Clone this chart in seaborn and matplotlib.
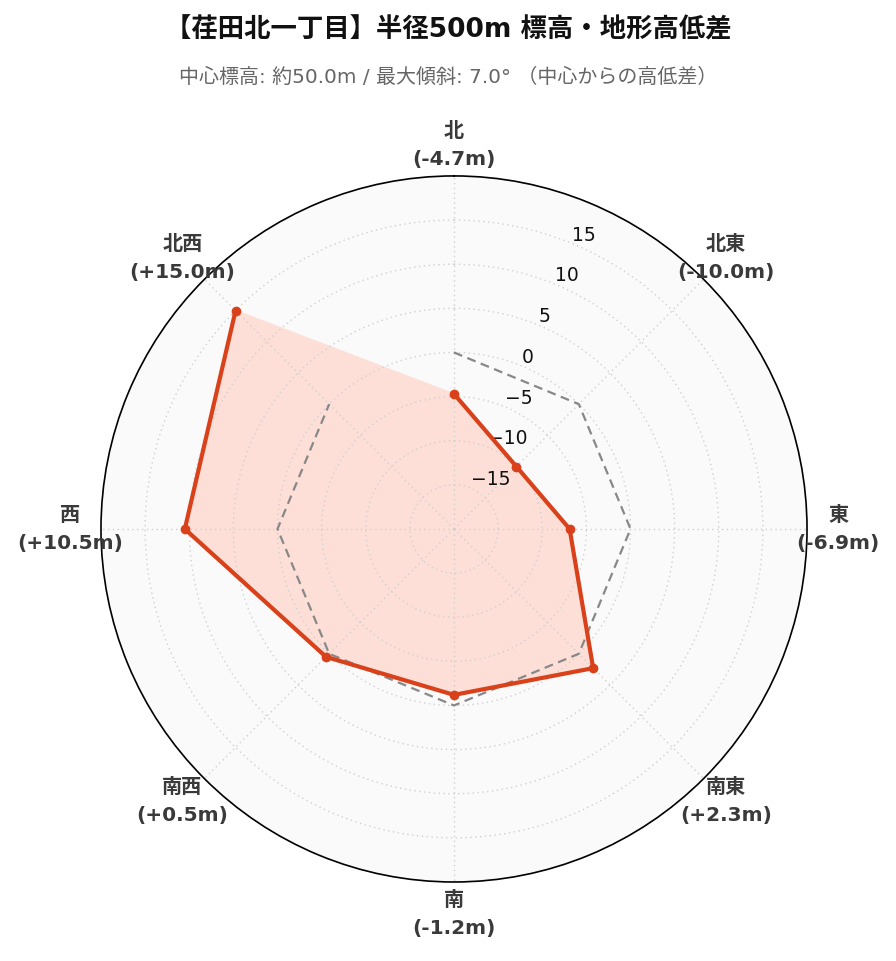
import numpy as np
import pandas as pd
import matplotlib
matplotlib.use("Agg")
import matplotlib.pyplot as plt
import seaborn as sns

# Data
directions = ["北", "北東", "東", "南東", "南", "南西", "西", "北西"]
diffs = [-4.7, -10.0, -6.9, 2.3, -1.2, 0.5, 10.5, 15.0]
r_ticks = [-15, -10, -5, 0, 5, 10, 15]
title = "【荏田北一丁目】半径500m 標高・地形高低差"
subtitle = "中心標高: 約50.0m / 最大傾斜: 7.0° （中心からの高低差）"

sns.set_style("white")
plt.rcParams["font.family"] = ["DejaVu Sans", "Noto Sans CJK JP"]
plt.rcParams["axes.unicode_minus"] = True

angles = np.linspace(0, 2 * np.pi, len(directions), endpoint=False)
df = pd.DataFrame({"angle": np.append(angles, angles[0]),
                   "diff": diffs + diffs[:1],
                   "zero": 0.0})

fig = plt.figure(figsize=(8.96, 9.62), dpi=100)
ax = fig.add_axes([0.1127, 0.0821, 0.788, 0.734], projection="polar")
ax.set_theta_zero_location("N")
ax.set_theta_direction(-1)
ax.set_facecolor("#fafafa")
ax.set_ylim(-20, 20)
ax.set_axisbelow(False)

# elevation difference
ax.fill(df["angle"], df["diff"], color="#fddfd7", zorder=2)
# zero reference
sns.lineplot(data=df, x="angle", y="zero", ax=ax, sort=False,
             color="#888888", linewidth=1.6, linestyle=(0, (4, 2.5)), zorder=2.7)
sns.lineplot(data=df, x="angle", y="diff", ax=ax, sort=False,
             color="#d9411a", linewidth=3, marker="o", markersize=7,
             markeredgewidth=0, zorder=3)

ax.set_xlabel("")
ax.set_ylabel("")
labels = [f"{d}\n({v:+.1f}m)" for d, v in zip(directions, diffs)]
ax.set_xticks(angles)
ax.set_xticklabels(labels, fontsize=14.5, fontweight="bold", color="#3a3a3a",
                   linespacing=1.6)
ax.tick_params(axis="x", pad=12)
ax.set_yticks(r_ticks)
ax.set_yticklabels([str(t).replace("-", "\u2212") for t in r_ticks], fontsize=13.5,
                   color="#111111")
ax.set_rlabel_position(22.5)
ax.grid(True, color="#d0d0d0", linestyle=(0, (1, 2.5)), linewidth=1)
ax.spines["polar"].set_color("black")
ax.spines["polar"].set_linewidth(1.2)

fig.text(0.5, 0.968, title, ha="center", va="center", fontsize=19,
         fontweight="bold", color="#111111")
fig.text(0.5, 0.920, subtitle, ha="center", va="center", fontsize=14.4,
         color="#666666")

fig.savefig("out.png", dpi=100)
